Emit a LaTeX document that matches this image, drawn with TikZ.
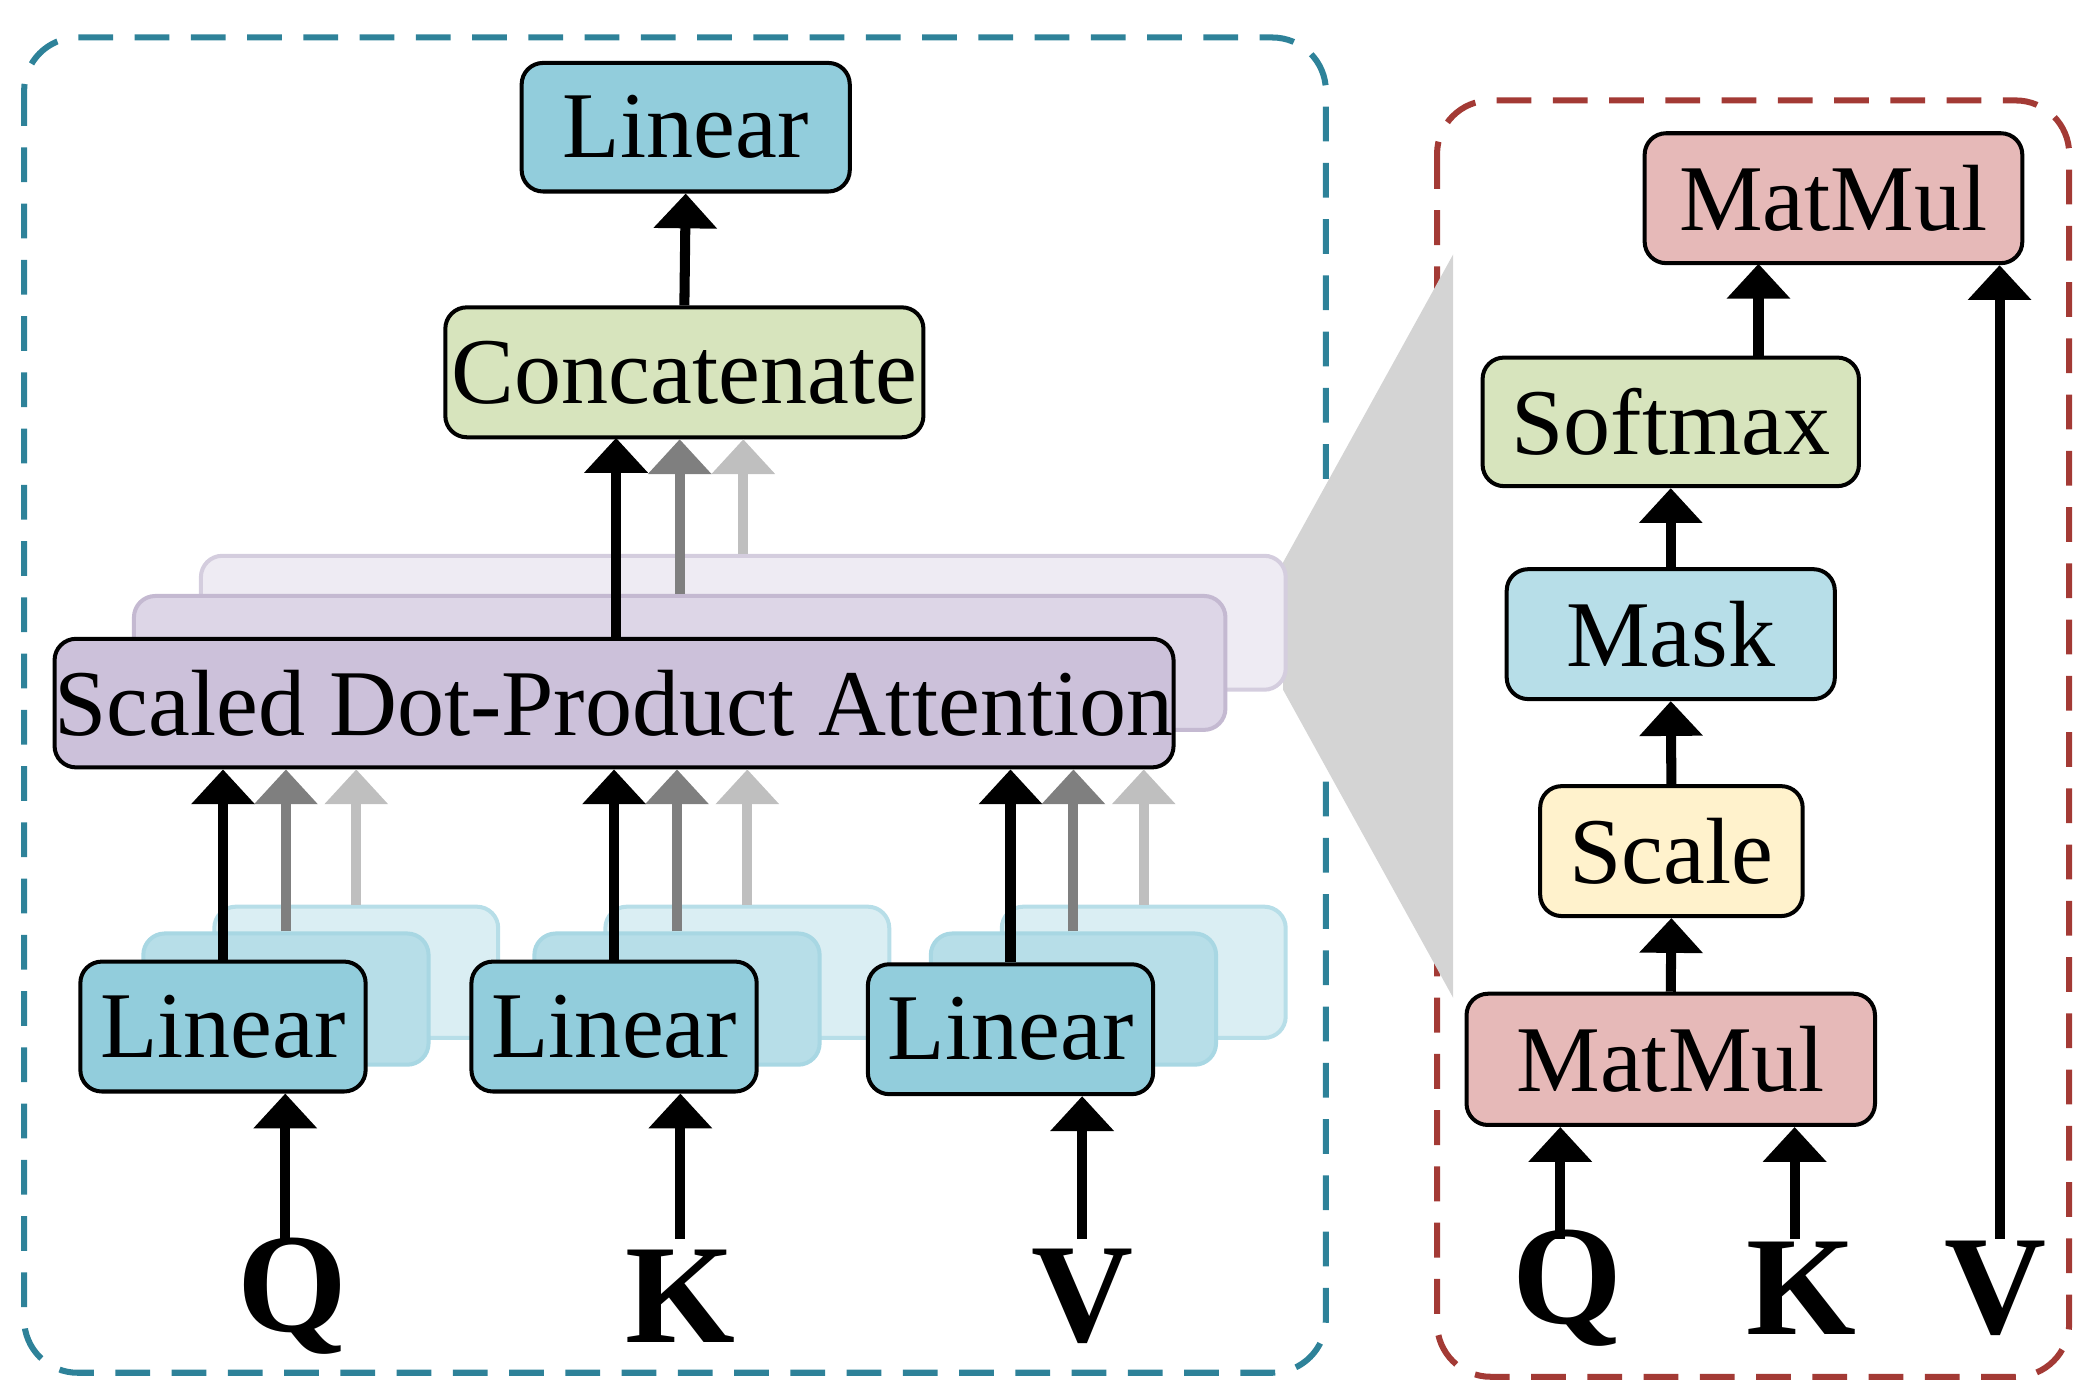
\documentclass[tikz,border=0pt]{standalone}
\usepackage{fontspec}
\setmainfont{Liberation Serif}
\usetikzlibrary{arrows.meta}
\definecolor{blueA}{HTML}{92CDDC}
\definecolor{blueB}{HTML}{B7DEE8}
\definecolor{blueC}{HTML}{DAEEF3}
\definecolor{greenA}{HTML}{D7E4BD}
\definecolor{pinkA}{HTML}{E6B9B8}
\definecolor{yelA}{HTML}{FFF2CC}
\definecolor{purA}{HTML}{CCC1DA}
\definecolor{purB}{HTML}{DDD6E7}
\definecolor{purC}{HTML}{EEEBF3}
\definecolor{teal}{HTML}{2E8299}
\definecolor{darkred}{HTML}{A33A35}
\definecolor{gArr}{HTML}{7F7F7F}
\definecolor{lArr}{HTML}{BFBFBF}
\begin{document}
\begin{tikzpicture}[x=0.1mm,y=-0.1mm,
 box/.style={draw,line width=0.3mm,rounded corners=1.6mm,inner sep=0pt,font=\fontsize{20}{20}\selectfont},
 ghost/.style={box,draw=#1},
 arr/.style={line width=0.75mm,-{Triangle[width=4.6mm,length=2.6mm]}},
 lab/.style={font=\fontsize{30}{30}\selectfont\bfseries}]
\useasboundingbox (0,0) rectangle (1568,1045);
% frames
\draw[teal,line width=0.45mm,dash pattern=on 2.6mm off 1.6mm,rounded corners=4mm] (18,28) rectangle (990,1025);
\draw[darkred,line width=0.45mm,dash pattern=on 2.6mm off 1.6mm,rounded corners=4mm] (1073,75) rectangle (1545,1028);
\fill[black!17] (958,420) -- (1085,190) -- (1085,745) -- (958,515) -- cycle;
% left
\node[box,fill=blueA,minimum width=24.5mm,minimum height=9.6mm] (lintop) at (512,95) {Linear};
\node[box,fill=greenA,minimum width=35.7mm,minimum height=9.7mm] (concat) at (511,278) {Concatenate};
\node[ghost=purB!80!black!20!purB,fill=purC,minimum width=81mm,minimum height=10mm] (att3) at (555,465) {};
\node[ghost=purA!80!black!20!purA,fill=purB,minimum width=81.5mm,minimum height=10mm] (att2) at (507.5,495) {};
\node[box,fill=purA,minimum width=81.3mm,minimum height=9.6mm] (att1) at (458.5,525) {Scaled Dot-Product Attention};
\foreach \i/\dx/\lx in {1/0/213,2/292/508,3/588/808}{
 \node[ghost=blueB,fill=blueC,minimum width=21.2mm,minimum height=9.8mm] (l\i c) at (266+\dx,726) {};
 \node[ghost=blueA!80,fill=blueB,minimum width=21.3mm,minimum height=9.8mm] (l\i b) at (213.5+\dx,746) {};
 \node[box,fill=blueA,minimum width=21.3mm,minimum height=9.7mm] (l\i a) at (166.5+\dx,766.5+\ifnum\i=3 2\else 0\fi) {Linear};
 \draw[arr,lArr] (l\i c.north) -- (l\i c.north |- att1.south);
 \draw[arr,gArr] (l\i b.north) -- (l\i b.north |- att1.south);
 \draw[arr] (l\i a.north) -- (l\i a.north |- att1.south);
}
\node[lab] (q) at (218,968) {Q};
\node[lab] (k) at (508,968) {K};
\node[lab] (v) at (808,968) {V};
\coordinate (qs) at (213,925); \coordinate (ks) at (508,925); \coordinate (vs) at (808,925);
\draw[arr] (qs) -- (qs |- l1a.south);
\draw[arr] (ks) -- (ks |- l2a.south);
\draw[arr] (vs) -- (vs |- l3a.south);
\draw[arr,lArr] (att3.north) -- (att3.north |- concat.south);
\draw[arr,gArr] (att2.north) -- (att2.north |- concat.south);
\draw[arr] (att1.north -| 460,0) -- (460,327);
\draw[arr] (concat.north) -- (lintop.south);
% right
\node[box,fill=pinkA,minimum width=28.2mm,minimum height=9.7mm] (mm2) at (1369,148) {MatMul};
\node[box,fill=greenA,minimum width=28.1mm,minimum height=9.6mm] (soft) at (1247.5,315) {Softmax};
\node[box,fill=blueB,minimum width=24.5mm,minimum height=9.7mm] (mask) at (1247.5,473.5) {Mask};
\node[box,fill=yelA,minimum width=19.6mm,minimum height=9.7mm] (scale) at (1248,635.5) {Scale};
\node[box,fill=pinkA,minimum width=30.5mm,minimum height=9.8mm] (mm1) at (1247.5,791) {MatMul};
\draw[arr] (mm1.north) -- (scale.south);
\draw[arr] (scale.north) -- (mask.south);
\draw[arr] (mask.north) -- (soft.south);
\draw[arr] (soft.north -| 1313,0) -- (1313,197);
\node[lab] (q2) at (1170,962) {Q};
\node[lab] (k2) at (1345,962) {K};
\node[lab] (v2) at (1490,962) {V};
\coordinate (q2s) at (1165,925); \coordinate (k2s) at (1340,925); \coordinate (v2s) at (1493,925);
\draw[arr] (q2s) -- (q2s |- mm1.south);
\draw[arr] (k2s) -- (k2s |- mm1.south);
\draw[arr] (v2s) -- (v2s |- mm2.south);
\end{tikzpicture}
\end{document}
